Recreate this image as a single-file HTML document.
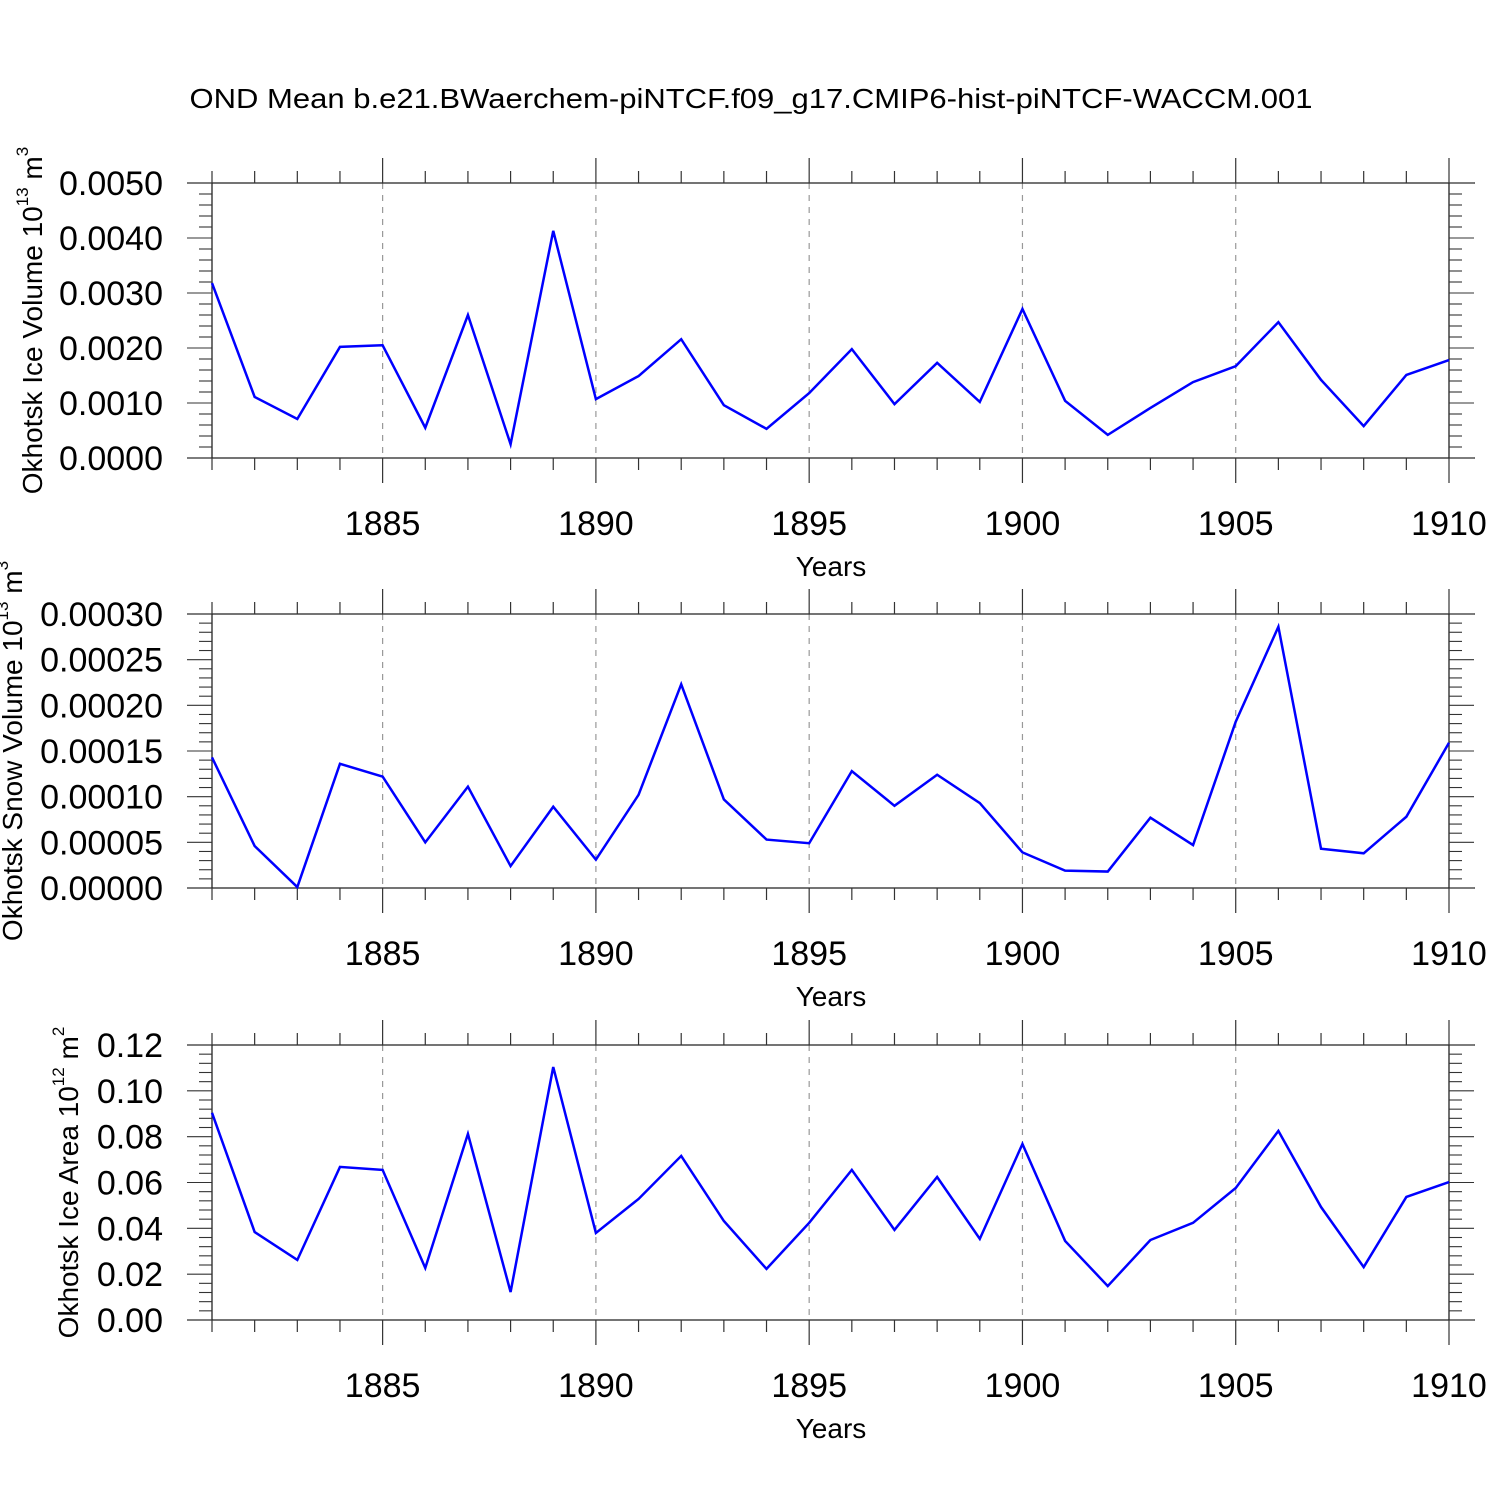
<!DOCTYPE html>
<html><head><meta charset="utf-8"><style>
html,body{margin:0;padding:0;background:#fff;}
svg{display:block;font-family:"Liberation Sans",Arial,sans-serif;}
</style></head>
<body>
<svg id="chart" width="1500" height="1500" viewBox="0 0 1500 1500">
<text x="751" y="108" font-size="28" text-anchor="middle" textLength="1123" lengthAdjust="spacingAndGlyphs">OND Mean b.e21.BWaerchem-piNTCF.f09_g17.CMIP6-hist-piNTCF-WACCM.001</text>
</svg>
<script>
const years = [1881,1882,1883,1884,1885,1886,1887,1888,1889,1890,1891,1892,1893,1894,1895,1896,1897,1898,1899,1900,1901,1902,1903,1904,1905,1906,1907,1908,1909,1910];
const iceVolume = [0.00318,0.00111,0.00071,0.00202,0.00205,0.00055,0.00260,0.00025,0.00413,0.00107,0.00149,0.00216,0.00096,0.00053,0.00118,0.00198,0.00098,0.00173,0.00102,0.00271,0.00104,0.00042,0.00091,0.00138,0.00167,0.00247,0.00142,0.00058,0.00151,0.00178];
const snowVolume = [0.000143,0.000046,0.000001,0.000136,0.000122,0.000050,0.000111,0.000024,0.000089,0.000031,0.000102,0.000223,0.000097,0.000053,0.000049,0.000128,0.000090,0.000124,0.000093,0.000039,0.000019,0.000018,0.000077,0.000047,0.000182,0.000286,0.000043,0.000038,0.000078,0.000159];
const iceArea = [0.0904,0.0384,0.0262,0.0668,0.0655,0.0227,0.0812,0.0122,0.1104,0.038,0.0528,0.0716,0.0432,0.0223,0.0424,0.0655,0.0393,0.0624,0.0354,0.0768,0.0345,0.0148,0.0349,0.0424,0.0576,0.0825,0.0493,0.0231,0.0537,0.0602];
const xTicks = [1885,1890,1895,1900,1905,1910];
const volTicks = ["0.0000","0.0010","0.0020","0.0030","0.0040","0.0050"];
const snowTicks = ["0.00000","0.00005","0.00010","0.00015","0.00020","0.00025","0.00030"];
const areaTicks = ["0.00","0.02","0.04","0.06","0.08","0.10","0.12"];

const NS="http://www.w3.org/2000/svg";
const svg=document.getElementById('chart');
const X0=212,X1=1449,YMIN=1881,YMAX=1910;
const xs=y=>X0+(y-YMIN)*(X1-X0)/(YMAX-YMIN);
function mk(tag,attrs,parent){const e=document.createElementNS(NS,tag);for(const k in attrs)e.setAttribute(k,attrs[k]);(parent||svg).appendChild(e);return e;}

const panels=[
 {top:183,bot:458,vals:iceVolume,ticks:volTicks,max:0.005,title:["Okhotsk Ice Volume 10","13"," m","3"],tx:32,name:'ice-volume'},
 {top:614,bot:888,vals:snowVolume,ticks:snowTicks,max:0.0003,title:["Okhotsk Snow Volume 10","13"," m","3"],tx:12,name:'snow-volume'},
 {top:1045,bot:1320,vals:iceArea,ticks:areaTicks,max:0.12,title:["Okhotsk Ice Area 10","12"," m","2"],tx:68,name:'ice-area'}
];
panels.forEach(p=>{
 const g=mk('g',{});
 
 
 const ys=v=>p.bot-v/p.max*(p.bot-p.top);
 xTicks.forEach(t=>{ if(t<YMAX){const l=mk('line',{x1:xs(t),x2:xs(t),y1:p.top,y2:p.bot,stroke:'#999','stroke-width':1.2,'stroke-dasharray':'6,6'},g);
   
   }});
 [p.top,p.bot].forEach(y=>{const l=mk('line',{x1:187,x2:1475,y1:y,y2:y,stroke:'#222','stroke-width':1.3},g);
   
   });
 const lv=mk('line',{x1:X0,x2:X0,y1:p.top,y2:p.bot,stroke:'#222','stroke-width':1.3},g);
 
 
 for(let yr=YMIN;yr<=YMAX;yr++){
   const major=xTicks.includes(yr); const len=major?25:12; const x=xs(yr);
   mk('line',{x1:x,x2:x,y1:p.top-len,y2:p.top,stroke:'#333','stroke-width':1.2},g);
   mk('line',{x1:x,x2:x,y1:p.bot,y2:p.bot+len,stroke:'#333','stroke-width':1.2},g);
 }
 mk('line',{x1:X1,x2:X1,y1:p.top,y2:p.bot,stroke:'#222','stroke-width':1.3},g);
 xTicks.forEach(t=>{const tx=mk('text',{x:xs(t),y:p.bot+77,'font-size':34,'text-anchor':'middle'},g);tx.textContent=t;
   
   });
 const xt=mk('text',{x:831,y:p.bot+118,'font-size':28,'text-anchor':'middle'},g);xt.textContent='Years';
 
 
 const n=p.ticks.length-1;
 for(let i=0;i<=n*5;i++){
   const v=p.max*i/(n*5); const y=ys(v); const major=i%5===0; const len=major?25:13;
   mk('line',{x1:X0-len,x2:X0,y1:y,y2:y,stroke:'#333','stroke-width':1.1},g);
   mk('line',{x1:X1,x2:X1+len,y1:y,y2:y,stroke:'#333','stroke-width':1.1},g);
 }
 p.ticks.forEach((t,i)=>{const tx=mk('text',{x:163,y:ys(p.max*i/n)+12,'font-size':34,'text-anchor':'end'},g);tx.textContent=t;
   
   });
 const cy=(p.top+p.bot)/2;
 const yt=mk('text',{x:0,y:0,'font-size':28,'text-anchor':'middle',transform:`translate(${p.tx+10},${cy}) rotate(-90)`},g);
 
 
 p.title.forEach((s,i)=>{const ts=mk('tspan',i%2?{'font-size':17,dy:-14}:{dy:i?14:0},yt);ts.textContent=s;});
 const pts=p.vals.map((v,i)=>xs(years[i])+','+ys(v)).join(' ');
 const pl=mk('polyline',{points:pts,fill:'none',stroke:'#0000ff','stroke-width':2.5,'stroke-linejoin':'miter'},g);
 
 
});
</script>
</body></html>
